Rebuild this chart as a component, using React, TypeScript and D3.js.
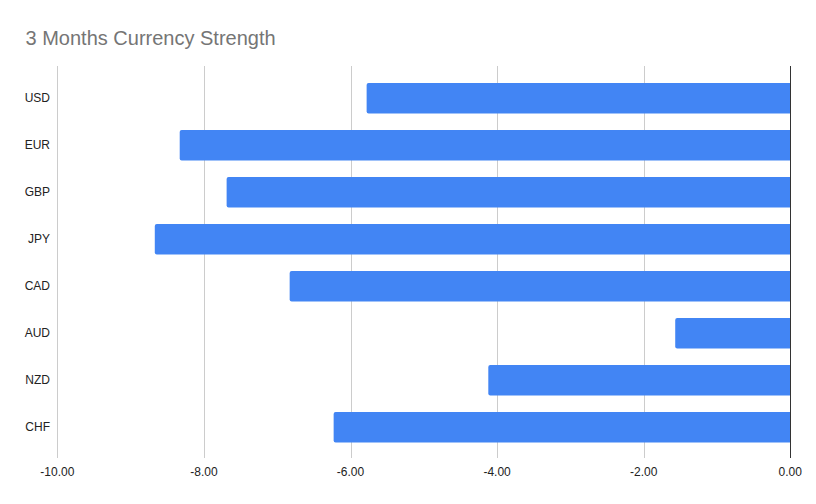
import React from "react";
import * as d3 from "d3";

const categories = ["USD", "EUR", "GBP", "JPY", "CAD", "AUD", "NZD", "CHF"];
const values = [-5.78, -8.33, -7.69, -8.67, -6.83, -1.57, -4.12, -6.23];
const xTicks = [-10, -8, -6, -4, -2, 0];
const title = "3 Months Currency Strength";

const W = 816;
const H = 504;
const left = 57.3;
const right = 790.3;
const top = 66;
const bottom = 458;

export default function App() {
  const x = d3.scaleLinear().domain([-10, 0]).range([left, right]);
  const y = d3
    .scaleBand<string>()
    .domain(categories)
    .range([top + 8.8, bottom - 7.2])
    .paddingInner(0.35)
    .paddingOuter(0.175);
  const font = "'Liberation Sans', Arial, sans-serif";
  const bh = y.bandwidth();
  const r = 2;
  return (
    <svg width={W} height={H} style={{ position: "absolute", left: 0, top: 0, background: "#fff" }}>
      <rect width={W} height={H} fill="#fff" />
      <text x={25.5} y={45} fontFamily={font} fontSize={20} fill="#757575">
        {title}
      </text>
      {xTicks.map((t) => (
        <g key={t}>
          {t !== 0 && (
            <line x1={Math.round(x(t)) + 0.5} x2={Math.round(x(t)) + 0.5} y1={top} y2={bottom} stroke="#cccccc" strokeWidth={1} />
          )}
          <text x={x(t)} y={476} textAnchor="middle" fontFamily={font} fontSize={12} fill="#222">
            {t.toFixed(2)}
          </text>
        </g>
      ))}
      {categories.map((c, i) => {
        const x0 = x(values[i]);
        const x1 = x(0);
        const y0 = y(c)!;
        const d = `M${x1},${y0} L${x0 + r},${y0} Q${x0},${y0} ${x0},${y0 + r} L${x0},${y0 + bh - r} Q${x0},${y0 + bh} ${x0 + r},${y0 + bh} L${x1},${y0 + bh} Z`;
        return (
          <g key={c}>
            <path d={d} fill="#4285f4" />
            <text x={50} y={y0 + bh / 2 + 4} textAnchor="end" fontFamily={font} fontSize={12} fill="#222">
              {c}
            </text>
          </g>
        );
      })}
      <line x1={Math.round(x(0)) + 0.5} x2={Math.round(x(0)) + 0.5} y1={top} y2={bottom} stroke="#333" strokeWidth={1} />
    </svg>
  );
}
